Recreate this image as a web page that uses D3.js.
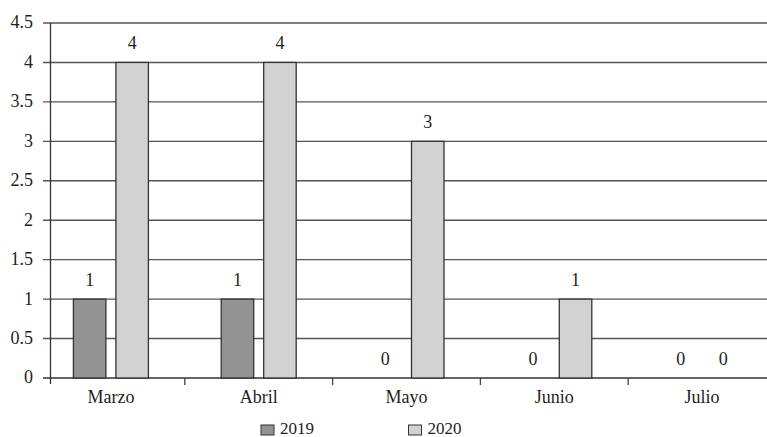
<!DOCTYPE html>
<html><head><meta charset="utf-8">
<script src="https://cdn.jsdelivr.net/npm/d3@7"></script>
<style>
html,body{margin:0;padding:0;background:#fff;}
svg{display:block;}
</style></head>
<body>
<svg id="chart" width="767" height="437"></svg>
<script>
const categories = ["Marzo","Abril","Mayo","Junio","Julio"];
const seriesNames = ["2019","2020"];
const values2019 = [1,1,0,0,0];
const values2020 = [4,4,3,1,0];
const yTicks = [0,0.5,1,1.5,2,2.5,3,3.5,4,4.5];
const colors = {"2019":"#939393","2020":"#d2d2d3"};
const FONT = "'Liberation Serif', 'Times New Roman', 'DejaVu Serif', serif";

const svg = d3.select("#chart");
const x0 = d3.scaleBand().domain(categories).range([37,776]);
const inner = 75, outer = (x0.bandwidth()-inner)/2;
const x1 = d3.scaleBand().domain(seriesNames).range([outer, outer+inner]).paddingInner(0.235);
const y = d3.scaleLinear().domain([0,4.5]).range([378,23]);
const axisX = 50.5;

function txt(sel){ return sel.style("font-family",FONT).style("fill","#231f20").attr("font-size",18); }

// gridlines
svg.append("g").selectAll("line").data(yTicks).join("line")
  .attr("x1",43).attr("x2",767)
  .attr("y1",d=>y(d)).attr("y2",d=>y(d))
  .attr("stroke",d=>d===0?"#333":"#555").attr("stroke-width",1.4);

// y labels
txt(svg.append("g").selectAll("text").data(yTicks).join("text")
  .attr("x",33).attr("y",d=>y(d)).attr("dy","0.3em")
  .attr("text-anchor","end")
  .text(d=>d3.format("")(d)));

// y axis line
svg.append("line").attr("x1",axisX).attr("x2",axisX)
  .attr("y1",y(4.5)).attr("y2",y(0)+6).attr("stroke","#333").attr("stroke-width",1.3);

// x ticks at band boundaries
const bounds = categories.slice(1).map(c=>x0(c));
svg.append("g").selectAll("line").data(bounds).join("line")
  .attr("x1",d=>d).attr("x2",d=>d).attr("y1",y(0)).attr("y2",y(0)+7)
  .attr("stroke","#444").attr("stroke-width",1.3);

// x labels
txt(svg.append("g").selectAll("text").data(categories).join("text")
  .attr("x",d=>x0(d)+x0.bandwidth()/2).attr("y",403)
  .attr("text-anchor","middle").text(d=>d));

const data = categories.map((c,i)=>({cat:c, vals:[{s:"2019",v:values2019[i]},{s:"2020",v:values2020[i]}]}));
const groups = svg.append("g").selectAll("g").data(data).join("g")
  .attr("transform",d=>`translate(${x0(d.cat)},0)`);
groups.selectAll("rect").data(d=>d.vals.filter(e=>e.v>0)).join("rect")
  .attr("x",d=>x1(d.s)).attr("width",x1.bandwidth())
  .attr("y",d=>y(d.v)).attr("height",d=>y(0)-y(d.v))
  .attr("fill",d=>colors[d.s]).attr("stroke","#333").attr("stroke-width",1.3);
txt(groups.selectAll("text").data(d=>d.vals).join("text")
  .attr("x",d=>x1(d.s)+x1.bandwidth()/2).attr("y",d=>y(d.v)-13)
  .attr("text-anchor","middle").text(d=>d.v));

// legend
const legend = svg.append("g").selectAll("g").data(seriesNames).join("g")
  .attr("transform",(d,i)=>`translate(${261+i*147.5},0)`);
legend.append("rect").attr("x",0).attr("y",425).attr("width",13).attr("height",10)
  .attr("fill",d=>colors[d]).attr("stroke","#333").attr("stroke-width",1);
txt(legend.append("text").attr("x",19).attr("y",434).text(d=>d)).attr("font-size",17);
</script>
</body></html>
